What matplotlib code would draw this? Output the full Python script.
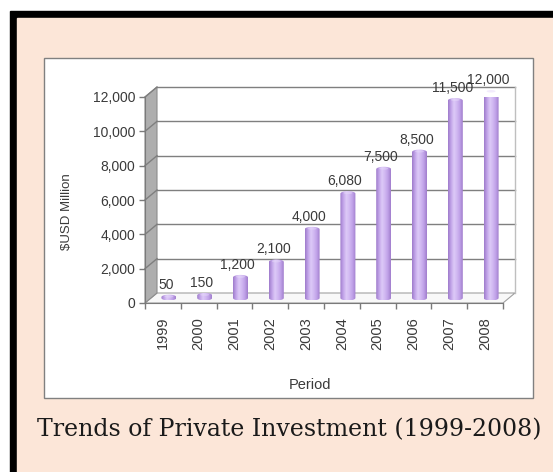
import numpy as np
import matplotlib
matplotlib.use("Agg")
import matplotlib.pyplot as plt
from matplotlib.patches import Rectangle, Polygon, Ellipse
from matplotlib.colors import LinearSegmentedColormap

plt.rcParams['font.family'] = ['Liberation Sans', 'DejaVu Sans']

# data
years = ['1999', '2000', '2001', '2002', '2003', '2004', '2005', '2006', '2007', '2008']
investment = [50, 150, 1200, 2100, 4000, 6080, 7500, 8500, 11500, 12000]
y_ticks = [0, 2000, 4000, 6000, 8000, 10000, 12000]
caption = 'Trends of Private Investment (1999-2008)'

W, H = 553, 472
fig = plt.figure(figsize=(W / 100, H / 100), dpi=100)
fig.patch.set_facecolor('white')

# page background: black frame, peach sheet, white chart panel
bg = fig.add_axes([0, 0, 1, 1])
bg.set_xlim(0, W)
bg.set_ylim(H, 0)
bg.axis('off')
bg.add_patch(Rectangle((10, 11), W - 10, H - 11, color='black'))
bg.add_patch(Rectangle((17, 18), W - 17, H - 18, color='#FCE6D8'))
bg.add_patch(Rectangle((44, 58), 489, 340, facecolor='white', edgecolor='#808080', lw=1))


def px_axes(x0, y0, x1, y1):
    return fig.add_axes([x0 / W, 1 - y1 / H, (x1 - x0) / W, (y1 - y0) / H])


ax = px_axes(145, 97, 503, 303)
ax.set_xlim(-0.5, len(years) - 0.5)
ax.set_ylim(0, y_ticks[-1])
ax.set_autoscale_on(False)
ax.patch.set_visible(False)

# size of one pixel in data units, for the fake 3d depth
p0 = ax.transData.transform((0, 0))
px_x = 1.0 / (ax.transData.transform((1, 0))[0] - p0[0])
px_y = y_ticks[-1] / (ax.transData.transform((0, y_ticks[-1]))[1] - p0[1])
dx, dy = 12 * px_x, 10 * px_y
x_lo, x_hi = -0.5, len(years) - 0.5

grid_c = '#7F7F7F'

# floor
ax.add_patch(Polygon([(x_lo, 0), (x_hi, 0), (x_hi + dx, dy), (x_lo + dx, dy)],
                     closed=True, facecolor='#F8F8F8', edgecolor='#A0A0A0',
                     lw=0.8, clip_on=False, zorder=1))
# left side wall
ax.add_patch(Polygon([(x_lo, 0), (x_lo, y_ticks[-1]), (x_lo + dx, y_ticks[-1] + dy),
                      (x_lo + dx, dy)],
                     closed=True, facecolor='#AEAEAE', edgecolor='#8C8C8C',
                     lw=0.8, clip_on=False, zorder=1))
# back wall gridlines and their diagonals on the side wall
for v in y_ticks[1:]:
    ax.plot([x_lo + dx, x_hi + dx], [v + dy, v + dy], color=grid_c, lw=1,
            clip_on=False, zorder=2)
    ax.plot([x_lo, x_lo + dx], [v, v + dy], color=grid_c, lw=1,
            clip_on=False, zorder=2)
ax.plot([x_hi + dx, x_hi + dx], [dy, y_ticks[-1] + dy], color='#BFBFBF', lw=1,
        clip_on=False, zorder=2)

# cylinders
shade = LinearSegmentedColormap.from_list(
    'cyl', ['#9E7BCB', '#C2A4E9', '#DDCAF7', '#D1B8F2', '#BFA0E7', '#A17ECD'])
grad = np.linspace(0, 1, 64).reshape(1, -1)
hw = 7.5 * px_x
eh = 2.5 * px_y
theta_top = np.linspace(0, np.pi, 30)
theta_bot = np.linspace(np.pi, 2 * np.pi, 30)

for i, v in enumerate(investment):
    cx = i + dx / 2
    base = dy / 2
    top = base + v
    verts = np.vstack([
        np.column_stack([cx + hw * np.cos(theta_top), top + eh * np.sin(theta_top)]),
        np.column_stack([cx + hw * np.cos(theta_bot), base + eh * np.sin(theta_bot)]),
    ])
    body = Polygon(verts, closed=True, facecolor='none', edgecolor='none',
                   clip_on=False, zorder=3)
    ax.add_patch(body)
    im = ax.imshow(grad, cmap=shade, aspect='auto', interpolation='bilinear',
                   extent=[cx - hw, cx + hw, base - eh, top + eh], zorder=3)
    im.set_clip_path(body)
    ax.add_patch(Ellipse((cx, top + 0.3 * eh), 2 * hw * 0.6, 2 * eh * 0.5,
                         facecolor='#E6D8FA', edgecolor='none', alpha=0.5,
                         clip_on=False, zorder=4))
    ax.annotate(f'{v:,}', (cx, top + eh), xytext=(-3, 3), textcoords='offset pixels',
                ha='center', va='bottom', fontsize=10, color='#3A3A3A', zorder=6,
                annotation_clip=False)

# axes, ticks and labels
for s in ('top', 'right'):
    ax.spines[s].set_visible(False)
for s in ('left', 'bottom'):
    ax.spines[s].set_color('#7A7A7A')
    ax.spines[s].set_zorder(5)
ax.set_yticks(y_ticks)
ax.set_yticklabels([f'{v:,}' for v in y_ticks])
ax.tick_params(axis='y', direction='out', length=4, width=1, color='#7A7A7A',
               labelsize=10, labelcolor='#3A3A3A', pad=3)
ax.set_xticks(np.arange(len(years) + 1) - 0.5)
ax.set_xticklabels([])
ax.set_xticks(np.arange(len(years)), minor=True)
ax.set_xticklabels(years, minor=True, rotation=90)
ax.tick_params(axis='x', which='major', direction='out', length=4, width=1, color='#7A7A7A')
ax.tick_params(axis='x', which='minor', length=0, pad=10, labelsize=10.5,
               labelcolor='#3A3A3A')

fig.text(310 / W, 1 - 385 / H, 'Period', ha='center', va='center', fontsize=10.5,
         color='#3A3A3A')
fig.text(67 / W, 1 - 212 / H, '$USD Million', ha='center', va='center', rotation=90,
         fontsize=9.5, color='#3A3A3A')

fig.text(289 / W, 1 - 430 / H, caption, ha='center', va='center',
         family=['DejaVu Serif'], fontsize=17, color='#1A1A1A')

fig.savefig('out.png', dpi=100, facecolor=fig.get_facecolor())
